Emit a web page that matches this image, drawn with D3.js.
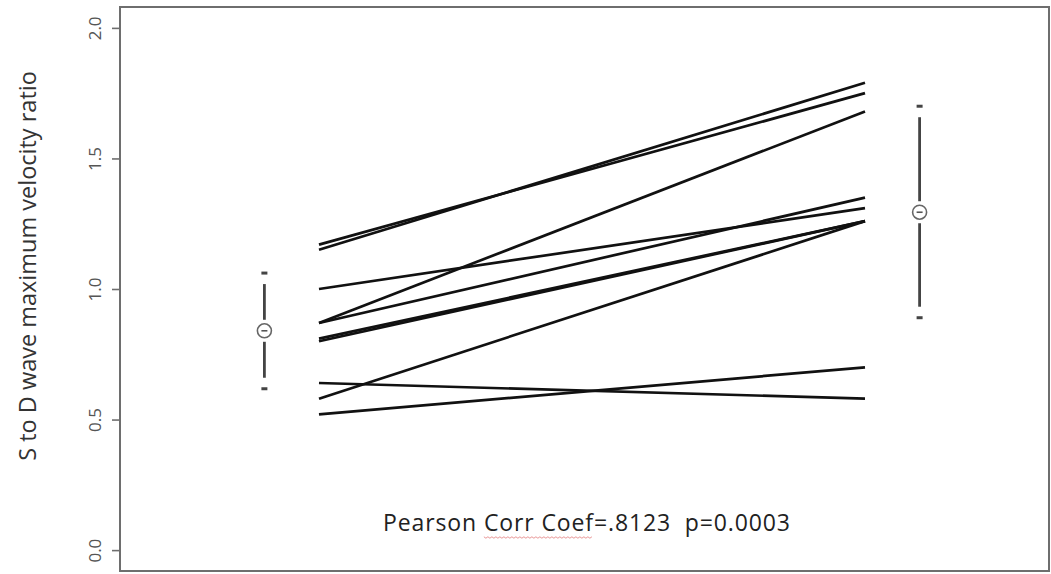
<!DOCTYPE html>
<html>
<head>
<meta charset="utf-8">
<script src="https://cdn.jsdelivr.net/npm/d3@7"></script>
<style>
  html, body { margin: 0; padding: 0; background: #fff; }
  svg { display: block; }
</style>
</head>
<body>
<div id="chart"></div>
<script>
// data
const preValues  = [1.15, 1.17, 0.87, 1.00, 0.87, 0.80, 0.81, 0.58, 0.64, 0.52];
const postValues = [1.79, 1.75, 1.68, 1.31, 1.35, 1.26, 1.26, 1.26, 0.58, 0.70];
const groupX     = [0.9, 2.1];          // where the mean +/- sd bars sit
const meanValues = [0.84, 1.294];
const lowValues  = [0.618, 0.89];
const highValues = [1.061, 1.70];
const yTicks     = [0, 0.5, 1, 1.5, 2];
const yLabel     = "S to D wave maximum velocity ratio";
const note       = "Pearson Corr Coef=.8123  p=0.0003";

const width = 1051;
const height = 574;
const box = { left: 120, right: 1049, top: 7, bottom: 571 };

const svg = d3.select("#chart")
  .append("svg")
  .attr("width", width)
  .attr("height", height);

const x = d3.scaleLinear()
  .domain([1, 2])
  .range([319, 865]);

const y = d3.scaleLinear()
  .domain([-0.08, 2.08])
  .range([box.bottom, box.top]);

// plot frame
svg.append("rect")
  .attr("x", box.left)
  .attr("y", box.top)
  .attr("width", box.right - box.left)
  .attr("height", box.bottom - box.top)
  .attr("fill", "none")
  .attr("stroke", "#6e6e6e")
  .attr("stroke-width", 2);

// y axis, labels turned like base R graphics
const yAxis = svg.append("g")
  .attr("transform", `translate(${box.left},0)`)
  .call(d3.axisLeft(y).tickValues(yTicks).tickSize(8).tickFormat(d3.format(".1f")));

yAxis.select(".domain").remove();
yAxis.selectAll(".tick line")
  .attr("stroke", "#6e6e6e")
  .attr("stroke-width", 1.6);
yAxis.selectAll(".tick text")
  .attr("transform", "rotate(-90)")
  .attr("x", 0)
  .attr("y", -19)
  .attr("dy", 0)
  .attr("text-anchor", "middle")
  .attr("fill", "#555")
  .style("font-family", "'Open Sans', sans-serif")
  .style("font-size", "17px");

svg.append("text")
  .attr("transform", `translate(36, 266) rotate(-90)`)
  .attr("text-anchor", "middle")
  .attr("fill", "#333")
  .style("font-family", "'Open Sans', sans-serif")
  .style("font-size", "23.5px")
  .text(yLabel);

// paired lines, one per subject
svg.selectAll("line.pair")
  .data(preValues.map((d, i) => ({ pre: d, post: postValues[i] })))
  .enter()
  .append("line")
  .attr("class", "pair")
  .attr("x1", x(1))
  .attr("x2", x(2))
  .attr("y1", d => y(d.pre))
  .attr("y2", d => y(d.post))
  .attr("stroke", "#111")
  .attr("stroke-width", 2.7)
  .attr("stroke-linecap", "butt");

// mean +/- sd bars
const bars = meanValues.map((m, i) => ({ x: groupX[i], mean: m, lo: lowValues[i], hi: highValues[i] }));
const r = 7;        // circle radius
const capGap = 11;  // space between cap and bar
const ptGap = 4;    // space between circle and bar
const barColor = "#444";

const eb = svg.selectAll("g.errbar")
  .data(bars)
  .enter()
  .append("g")
  .attr("class", "errbar");

// caps
eb.append("line")
  .attr("x1", d => x(d.x) - 3).attr("x2", d => x(d.x) + 3)
  .attr("y1", d => y(d.hi)).attr("y2", d => y(d.hi))
  .attr("stroke", barColor).attr("stroke-width", 3);
eb.append("line")
  .attr("x1", d => x(d.x) - 3).attr("x2", d => x(d.x) + 3)
  .attr("y1", d => y(d.lo)).attr("y2", d => y(d.lo))
  .attr("stroke", barColor).attr("stroke-width", 3);

// upper and lower bar pieces
eb.append("line")
  .attr("x1", d => x(d.x)).attr("x2", d => x(d.x))
  .attr("y1", d => y(d.hi) + capGap).attr("y2", d => y(d.mean) - r - ptGap)
  .attr("stroke", barColor).attr("stroke-width", 2.8);
eb.append("line")
  .attr("x1", d => x(d.x)).attr("x2", d => x(d.x))
  .attr("y1", d => y(d.mean) + r + ptGap).attr("y2", d => y(d.lo) - capGap)
  .attr("stroke", barColor).attr("stroke-width", 2.8);

// the mean point
eb.append("circle")
  .attr("cx", d => x(d.x))
  .attr("cy", d => y(d.mean))
  .attr("r", r)
  .attr("fill", "none")
  .attr("stroke", "#666")
  .attr("stroke-width", 1.6);
eb.append("line")
  .attr("x1", d => x(d.x) - 3).attr("x2", d => x(d.x) + 3)
  .attr("y1", d => y(d.mean)).attr("y2", d => y(d.mean))
  .attr("stroke", "#555").attr("stroke-width", 1.6);

// correlation note, fitted to the width seen in the picture
const noteText = svg.append("text")
  .attr("x", 383)
  .attr("y", 531)
  .attr("fill", "#222")
  .attr("textLength", 407)
  .attr("lengthAdjust", "spacing")
  .style("font-family", "'Open Sans', sans-serif")
  .style("font-size", "23px")
  .style("white-space", "pre")
  .text(note);

// spell-check squiggle under "Corr Coef"
const node = noteText.node();
const start = note.indexOf("Corr");
const end = start + "Corr Coef".length - 1;
const sx = node.getStartPositionOfChar(start).x;
const ex = node.getEndPositionOfChar(end).x;
const wave = d3.range(0, Math.floor((ex - sx) / 2) + 1).map(k => [sx + k * 2, 537 + (k % 2 ? 1.2 : -0.2)]);
svg.append("path")
  .attr("d", d3.line()(wave))
  .attr("fill", "none")
  .attr("stroke", "#e58a8a")
  .attr("stroke-width", 0.9);
</script>
</body>
</html>
